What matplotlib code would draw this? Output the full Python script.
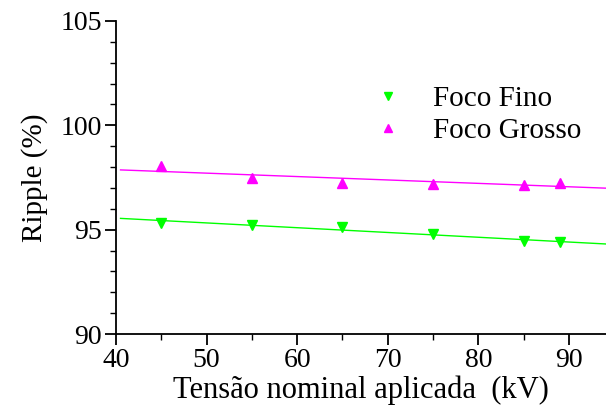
import numpy as np
import matplotlib
matplotlib.use("Agg")
import matplotlib.pyplot as plt
from matplotlib.ticker import MultipleLocator

plt.rcParams['font.family'] = ['Liberation Serif', 'DejaVu Serif']

tensao = [45, 55, 65, 75, 85, 89]
fino = [95.34, 95.22, 95.14, 94.78, 94.44, 94.41]
grosso = [98.05, 97.48, 97.25, 97.20, 97.16, 97.25]
fit_range = [40.5, 94.1]

fig = plt.figure(figsize=(6.06, 4.08), dpi=100)
ax = fig.add_axes([116/606, 1 - 334/408, (606 - 116)/606, (334 - 21)/408])

xs = np.array(fit_range)
for ys, col in ((fino, '#00ff00'), (grosso, '#ff00ff')):
    p = np.polyfit(tensao, ys, 1)
    ax.plot(xs, np.polyval(p, xs), color=col, lw=1.0, zorder=2)

ax.plot(tensao, fino, linestyle='none', marker='v', color='#00ff00', ms=7, label='Foco Fino', zorder=3)
ax.plot(tensao, grosso, linestyle='none', marker='^', color='#ff00ff', ms=7, label='Foco Grosso', zorder=3)

ax.set_xlim(40, 94.1)
ax.set_ylim(90, 105)
ax.xaxis.set_major_locator(MultipleLocator(10))
ax.xaxis.set_minor_locator(MultipleLocator(5))
ax.yaxis.set_major_locator(MultipleLocator(5))
ax.yaxis.set_minor_locator(MultipleLocator(1))
ax.spines['top'].set_visible(False)
ax.spines['right'].set_visible(False)
for s in ('left', 'bottom'):
    ax.spines[s].set_linewidth(1.3)
ax.tick_params(which='major', direction='out', length=8, width=1.3, labelsize=20, pad=2)
ax.tick_params(which='minor', direction='out', length=4, width=1.0)

ax.set_xlabel('Tensão nominal aplicada  (kV)', fontsize=22, labelpad=2)
ax.set_ylabel('Ripple (%)', fontsize=21, labelpad=9)

leg = ax.legend(loc='upper left', bbox_to_anchor=(0.471, 0.877), frameon=False, fontsize=21,
                handlelength=1.0, handletextpad=1.05, labelspacing=0.2, markerscale=0.8)

fig.savefig('out.png', dpi=100)
